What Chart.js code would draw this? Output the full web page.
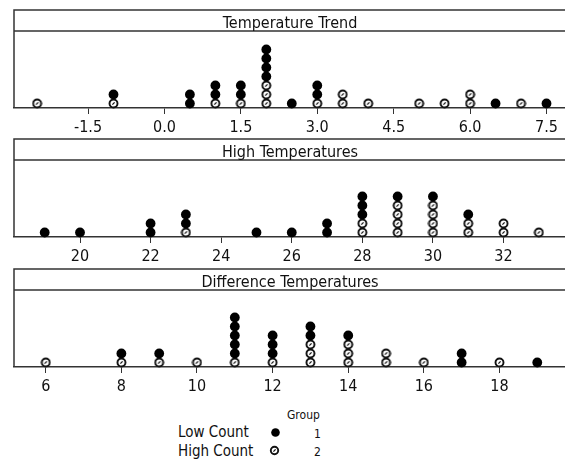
<!DOCTYPE html>
<html>
<head>
<meta charset="utf-8">
<script src="https://cdn.jsdelivr.net/npm/chart.js"></script>
<style>
  html, body { margin:0; padding:0; background:#fff; width:565px; height:461px; overflow:hidden; }
  canvas.panel { position:absolute; left:0; }
  .lg { position:absolute; font-family:"DejaVu Sans Condensed","DejaVu Sans",sans-serif; color:#111; white-space:nowrap; }
  .mk { position:absolute; }
</style>
</head>
<body>
<canvas id="p1" class="panel" width="580" height="128" style="top:7px"></canvas>
<canvas id="p2" class="panel" width="580" height="128" style="top:136px"></canvas>
<canvas id="p3" class="panel" width="580" height="128" style="top:266px"></canvas>

<div class="lg" style="left:287px; top:407px; font-size:12px; line-height:16px;">Group</div>
<div class="lg" style="left:178px; top:423px; font-size:15px; line-height:18px;">Low Count</div>
<div class="lg" style="left:178px; top:442px; font-size:15px; line-height:18px;">High Count</div>
<div class="lg" style="left:314px; top:426px; font-size:12px; line-height:16px;">1</div>
<div class="lg" style="left:314px; top:444px; font-size:12px; line-height:16px;">2</div>
<canvas id="mkLow" class="mk" width="11" height="11" style="left:269.5px; top:426.5px"></canvas>
<canvas id="mkHigh" class="mk" width="11" height="11" style="left:269px; top:444.5px"></canvas>

<script>
// ---------------- data ----------------
const trendValues = [-2.5, -1.0, 0.5, 1.0, 1.5, 2.0, 2.5, 3.0, 3.5, 4.0, 5.0, 5.5, 6.0, 6.5, 7.0, 7.5];
const trendLow    = [0,    1,    2,   2,   2,   4,   1,   2,   0,   0,   0,   0,   0,   1,   0,   1];
const trendHigh   = [1,    1,    0,   1,   1,   3,   0,   1,   2,   1,   1,   1,   2,   0,   1,   0];
const trendTicks  = [-1.5, 0, 1.5, 3, 4.5, 6, 7.5];

const highValues = [19, 20, 22, 23, 25, 26, 27, 28, 29, 30, 31, 32, 33];
const highLow    = [1,  1,  2,  2,  1,  1,  2,  3,  1,  1,  1,  0,  0];
const highHigh   = [0,  0,  0,  1,  0,  0,  0,  2,  4,  4,  2,  2,  1];
const highTicks  = [20, 22, 24, 26, 28, 30, 32];

const diffValues = [6, 8, 9, 10, 11, 12, 13, 14, 15, 16, 17, 18, 19];
const diffLow    = [0, 1, 1, 0,  5,  3,  2,  1,  0,  0,  2,  0,  1];
const diffHigh   = [1, 1, 1, 1,  1,  1,  3,  3,  2,  1,  0,  1,  0];
const diffTicks  = [6, 8, 10, 12, 14, 16, 18];

const panelTitles = ['Temperature Trend', 'High Temperatures', 'Difference Temperatures'];
const groupNames  = ['Low Count', 'High Count'];

// ---------------- styling ----------------
const FONT = '"DejaVu Sans Condensed", "DejaVu Sans", sans-serif';
const INK = '#111';
const FRAME = '#333';

function drawOpen(ctx, cx, cy, r) {
  ctx.save();
  ctx.beginPath();
  ctx.arc(cx, cy, r, 0, Math.PI * 2);
  ctx.fillStyle = '#fff';
  ctx.fill();
  ctx.lineWidth = 1.9;
  ctx.strokeStyle = INK;
  ctx.stroke();
  ctx.beginPath();
  ctx.moveTo(cx - 1.1, cy + 1.1);
  ctx.lineTo(cx + 1.1, cy - 1.1);
  ctx.lineWidth = 1.3;
  ctx.stroke();
  ctx.restore();
}
function drawFilled(ctx, cx, cy, r) {
  ctx.beginPath();
  ctx.arc(cx, cy, r, 0, Math.PI * 2);
  ctx.fillStyle = '#000';
  ctx.fill();
}

const openImg = document.createElement('canvas');
openImg.width = 11; openImg.height = 11;
drawOpen(openImg.getContext('2d'), 5.5, 5.5, 4.0);

drawFilled(document.getElementById('mkLow').getContext('2d'), 5.5, 5.5, 4.3);
drawOpen(document.getElementById('mkHigh').getContext('2d'), 5.5, 5.5, 3.7);

const FRAME_TOP = 3;
const framePlugin = {
  id: 'panelFrame',
  afterDraw(chart, args, opts) {
    const { ctx, chartArea: a } = chart;
    ctx.save();
    ctx.strokeStyle = FRAME;
    ctx.lineWidth = 1.5;
    ctx.beginPath();
    ctx.moveTo(a.left, a.bottom);
    ctx.lineTo(a.left, FRAME_TOP);
    ctx.lineTo(a.right + 5, FRAME_TOP);
    ctx.moveTo(a.left, a.top);
    ctx.lineTo(a.right + 5, a.top);
    ctx.stroke();
    ctx.fillStyle = INK;
    ctx.font = '16px ' + FONT;
    ctx.textAlign = 'center';
    ctx.textBaseline = 'alphabetic';
    ctx.fillText(opts.title, (a.left + a.right) / 2, a.top - 3);
    ctx.restore();
  }
};

function makePanel(id, title, values, low, high, ticks, min, max, decimals) {
  const lowPts = [], highPts = [];
  values.forEach((v, i) => {
    for (let k = 1; k <= high[i]; k++) highPts.push({ x: v, y: k - 0.5 });
    for (let k = 1; k <= low[i]; k++) lowPts.push({ x: v, y: high[i] + k - 0.5 });
  });
  const AXIS_H = 27;
  new Chart(document.getElementById(id), {
    type: 'scatter',
    data: {
      datasets: [
        { label: groupNames[0], data: lowPts, pointStyle: 'circle', pointRadius: 4.9,
          backgroundColor: '#000', borderColor: '#000', borderWidth: 0, clip: false },
        { label: groupNames[1], data: highPts, pointStyle: openImg, pointRadius: 5.5,
          backgroundColor: '#fff', borderColor: INK, borderWidth: 0, clip: false }
      ]
    },
    options: {
      responsive: false,
      animation: false,
      events: [],
      layout: { padding: { top: 24, left: 14, right: 14, bottom: 0 } },
      plugins: {
        legend: { display: false },
        tooltip: { enabled: false },
        title: { display: false },
        panelFrame: { title }
      },
      scales: {
        x: {
          type: 'linear', min, max,
          afterBuildTicks: s => { s.ticks = ticks.map(v => ({ value: v })); },
          afterFit: s => { s.height = AXIS_H; },
          ticks: {
            callback: v => decimals ? Number(v).toFixed(1) : String(v),
            font: { family: FONT, size: 16 }, color: INK, padding: 4,
            autoSkip: false, maxRotation: 0
          },
          grid: { drawOnChartArea: false, drawTicks: true, tickLength: 6, color: FRAME, lineWidth: 1 },
          border: { display: true, color: FRAME, width: 1.5 }
        },
        y: { display: false, min: 0, max: (128 - AXIS_H - 24) / 9 }
      }
    },
    plugins: [framePlugin]
  });
}

makePanel('p1', panelTitles[0], trendValues, trendLow, trendHigh, trendTicks, -2.953, 7.883, true);
makePanel('p2', panelTitles[1], highValues, highLow, highHigh, highTicks, 18.13, 33.77, false);
makePanel('p3', panelTitles[2], diffValues, diffLow, diffHigh, diffTicks, 5.16, 19.76, false);
</script>
</body>
</html>
